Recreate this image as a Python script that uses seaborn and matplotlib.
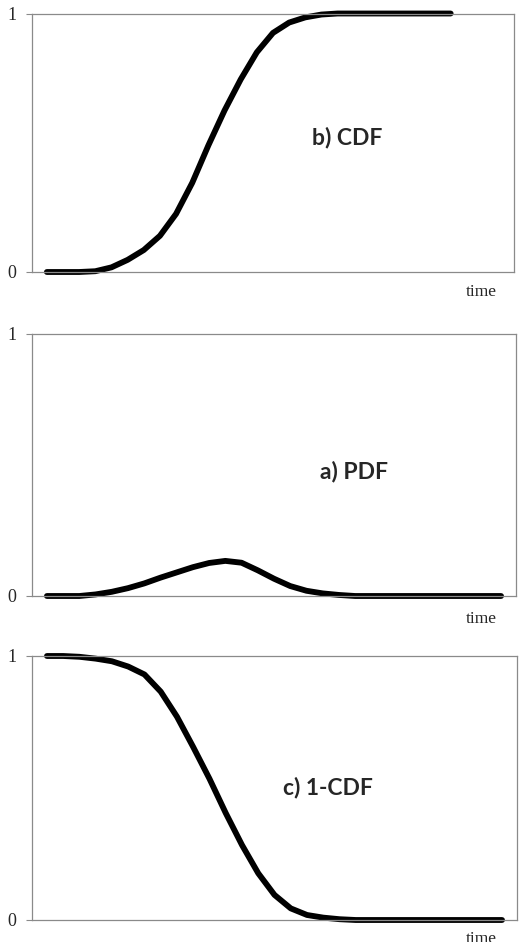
import numpy as np
import pandas as pd
import seaborn as sns
import matplotlib.pyplot as plt

# values, one per time step
time = list(range(29))
cdf = [0, 0, 0, 0.003, 0.018, 0.047, 0.085, 0.14, 0.225, 0.345, 0.49, 0.625, 0.745,
       0.85, 0.925, 0.965, 0.985, 0.996, 1.0, 1.0, 1.0, 1.0, 1.0, 1.0, 1.0, 1.0]
pdf = [0, 0, 0, 0.006, 0.016, 0.03, 0.048, 0.07, 0.09, 0.11, 0.126, 0.134, 0.127,
       0.098, 0.066, 0.038, 0.02, 0.01, 0.004, 0, 0, 0, 0, 0, 0, 0, 0, 0, 0]
surv = [1.0, 1.0, 0.997, 0.99, 0.98, 0.96, 0.93, 0.865, 0.77, 0.655, 0.535, 0.405, 0.284,
        0.177, 0.095, 0.044, 0.019, 0.009, 0.003, 0, 0, 0, 0, 0, 0, 0, 0, 0, 0]

panels = [
    (cdf, "b) CDF", [32, 13.5, 514, 272], (347, 137), 292),
    (pdf, "a) PDF", [32, 334, 516, 596], (354, 472), 619),
    (surv, "c) 1-CDF", [32, 656, 517, 920], (328, 788), 939),
]

sns.set_style("white")
plt.rcParams['font.family'] = ['Liberation Serif', 'DejaVu Serif']

W, H = 519, 942
fig = plt.figure(figsize=(W / 100, H / 100), dpi=100)

for vals, label, (l, t, r, b), (lx, ly), time_y in panels:
    ax = fig.add_axes([l / W, 1 - b / H, (r - l) / W, (b - t) / H])
    df = pd.DataFrame({"time": time[:len(vals)], "value": vals})
    sns.lineplot(data=df, x="time", y="value", ax=ax, color="black",
                 linewidth=4.2, solid_capstyle="round", solid_joinstyle="round",
                 clip_on=False)
    ax.set_xlim(-0.92, 28.92)
    ax.set_ylim(0, 1)
    ax.set_xticks([])
    ax.set_yticks([0, 1])
    ax.set_yticklabels(["0", "1"], fontsize=13)
    ax.tick_params(axis="y", left=True, length=4, width=0.8, color="#8a8a8a", pad=7)
    ax.set_xlabel("")
    ax.set_ylabel("")
    for s in ax.spines.values():
        s.set_color("#8a8a8a")
        s.set_linewidth(0.9)
    fig.text(lx / W, 1 - ly / H, label, ha="center", va="center",
             fontsize=16.5, fontweight="bold", family=["Lato", "DejaVu Sans"])
    fig.text(481 / W, 1 - time_y / H, "time", ha="center", va="center", fontsize=12.5)

fig.savefig("out.png", dpi=100)
